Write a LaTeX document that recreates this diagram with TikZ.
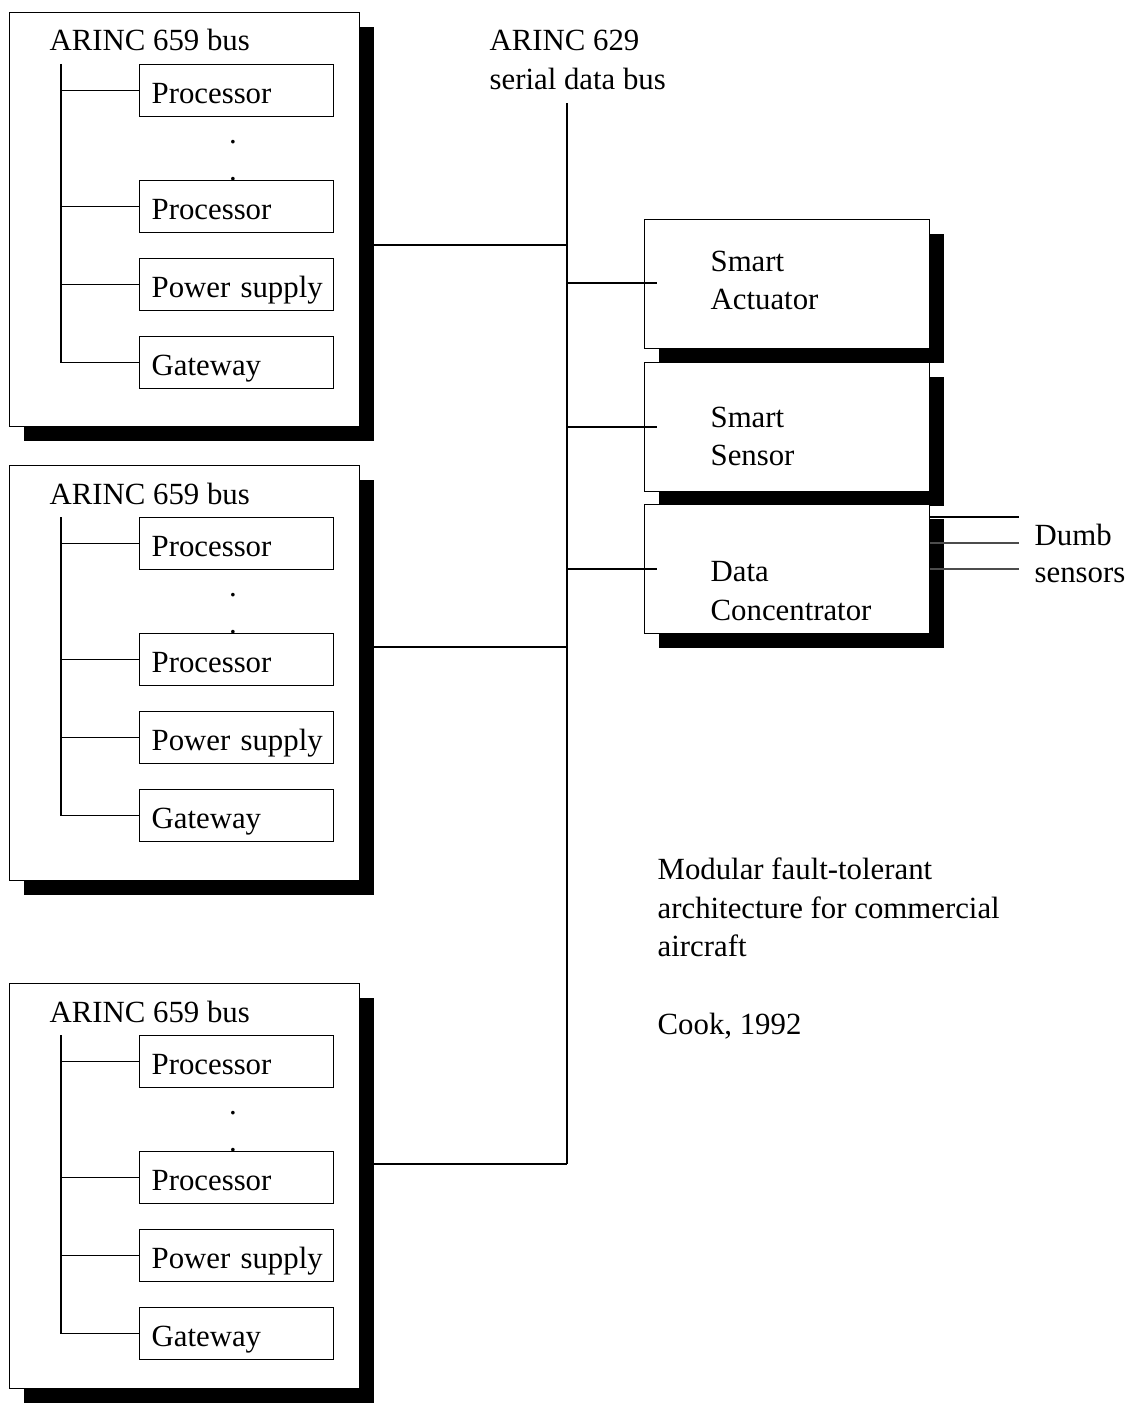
\documentclass[tikz,border=0pt]{standalone}
\usepackage{fontspec}
\setmainfont{Liberation Serif}
\begin{document}
\begin{tikzpicture}[x=1pt,y=-1pt,line width=1.3pt,
  txt/.style={font=\fontsize{30.8}{38.5}\selectfont, inner sep=0pt},
  shadowbox/.style={fill=black, draw=none, inner sep=0pt, anchor=north west},
  outerbox/.style={draw=black, fill=white, inner sep=0pt, anchor=north west},
  unit/.style={txt, draw=black, fill=white, anchor=north west, text width=170pt, align=left,
    inner xsep=12pt, inner ysep=0pt, minimum height=52pt, text height=31pt, text depth=5pt}]
\useasboundingbox (0,0) rectangle (1129,1405);

% bus taps on the ARINC 629 bus
\coordinate (bustop) at (567,103);
\coordinate (tap1) at (567,245);
\coordinate (tap2) at (567,647);
\coordinate (tap3) at (567,1164);
\coordinate (tapA) at (567,283);
\coordinate (tapB) at (567,427);
\coordinate (tapC) at (567,569);

% three modules
\foreach \i/\dy/\h in {1/0/414, 2/453/415, 3/971/405}{
  \begin{scope}[shift={(0,\dy)}]
    \node[shadowbox, minimum width=350pt, minimum height=\h pt] (sh\i) at (23,26) {};
    \node[outerbox, minimum width=350pt, minimum height=\h pt] (m\i) at (9,12) {};
    \node[txt, anchor=base west] (lab\i) at (49,51) {ARINC 659 bus};
    \node[unit] (pa\i) at (139,64) {\mbox{Processor}};
    \node[unit] (pb\i) at (139,180) {\mbox{Processor}};
    \node[unit] (ps\i) at (139,258) {\mbox{Power supply}};
    \node[unit] (gw\i) at (139,336) {\mbox{Gateway}};
    \node[txt, anchor=base] (da\i) at (233,143) {.};
    \node[txt, anchor=base] (db\i) at (233,180) {.};
    \coordinate (ib\i) at (61,64);
  \end{scope}
  \draw (ib\i) -- (ib\i |- gw\i.west);
  \draw (ib\i |- pa\i.west) -- (pa\i.west);
  \draw (ib\i |- pb\i.west) -- (pb\i.west);
  \draw (ib\i |- ps\i.west) -- (ps\i.west);
  \draw (ib\i |- gw\i.west) -- (gw\i.west);
  \draw (sh\i.east |- tap\i) -- (tap\i);
}

% main bus
\draw (bustop) -- (tap3);
\node[txt, anchor=base west] (b629a) at (489,51) {ARINC 629};
\node[txt, anchor=base west] (b629b) at (489,89) {serial data bus};

% right-hand units
\node[shadowbox, minimum width=285pt, minimum height=129pt] (shA) at (658,233) {};
\node[outerbox, minimum width=285pt, minimum height=129pt] (sa) at (644,219) {};
\node[shadowbox, minimum width=285pt, minimum height=129pt] (shB) at (658,376) {};
\node[outerbox, minimum width=285pt, minimum height=129pt] (ss) at (644,362) {};
\node[shadowbox, minimum width=285pt, minimum height=129pt] (shC) at (658,518) {};
\node[outerbox, minimum width=285pt, minimum height=129pt] (dc) at (644,504) {};

\node[txt, anchor=base west] (saA) at (710,271) {Smart};
\node[txt, anchor=base west] (saB) at (710,309) {Actuator};
\node[txt, anchor=base west] (ssA) at (710,427) {Smart};
\node[txt, anchor=base west] (ssB) at (710,465) {Sensor};
\node[txt, anchor=base west] (dcA) at (710,581) {Data};
\node[txt, anchor=base west] (dcB) at (710,620) {Concentrator};

\draw (tapA) -- (tapA -| sa.west) -- ++(13,0);
\draw (tapB) -- (tapB -| ss.west) -- ++(13,0);
\draw (tapC) -- (tapC -| dc.west) -- ++(13,0);

% dumb sensors
\coordinate (dsA) at (1019,517);
\coordinate (dsB) at (1019,543);
\coordinate (dsC) at (1019,569);
\draw (dc.east |- dsA) -- (dsA);
\draw[black!70] (dc.east |- dsB) -- (dsB);
\draw[black!70] (dc.east |- dsC) -- (dsC);
\node[txt, anchor=base west] (dumbA) at (1034,545) {Dumb};
\node[txt, anchor=base west] (dumbB) at (1034,582) {sensors};

% caption
\node[txt, anchor=base west] (capA) at (657,879) {Modular fault-tolerant};
\node[txt, anchor=base west] (capB) at (657,918) {architecture for commercial};
\node[txt, anchor=base west] (capC) at (657,956) {aircraft};
\node[txt, anchor=base west] (capD) at (657,1034) {Cook, 1992};
\end{tikzpicture}
\end{document}
